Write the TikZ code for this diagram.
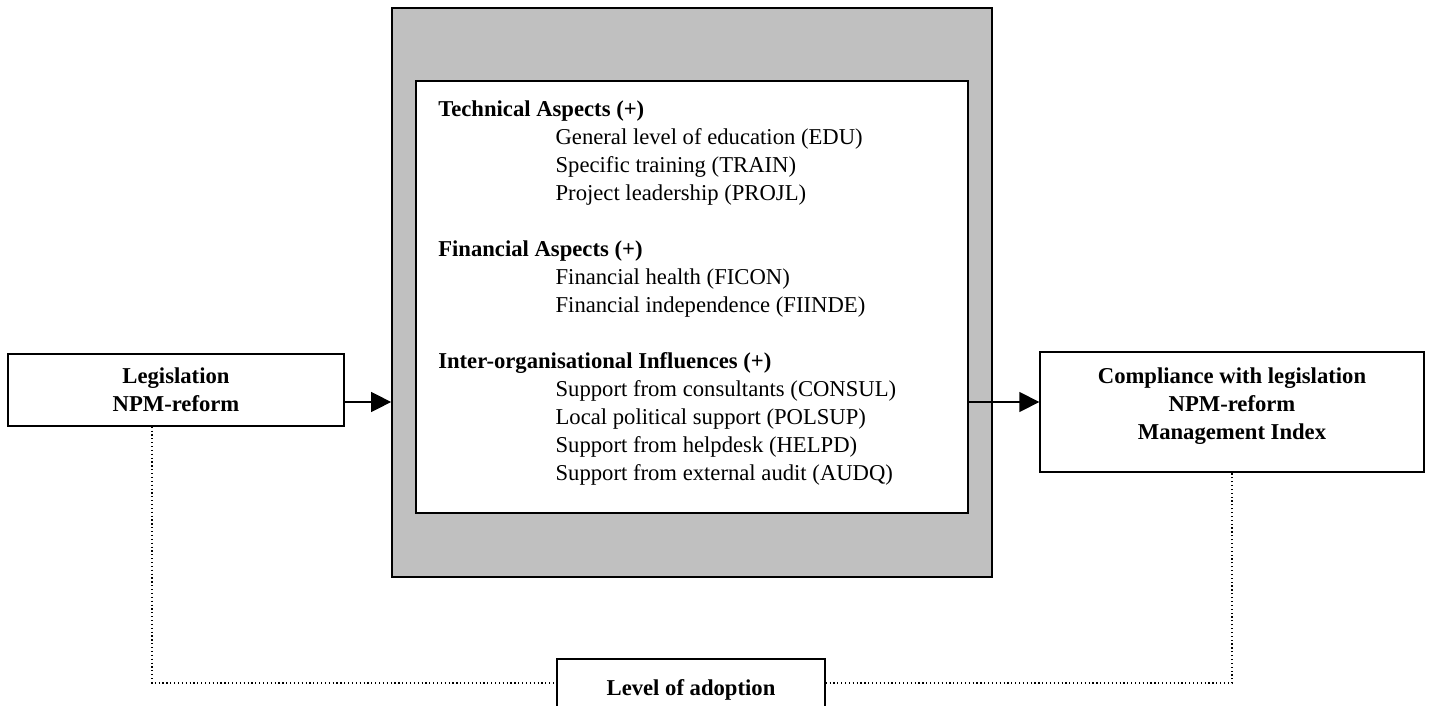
\documentclass[tikz,border=0pt]{standalone}
\usepackage{fontspec}
\setmainfont{Liberation Serif}
\usetikzlibrary{arrows.meta}
\definecolor{shade}{HTML}{C0C0C0}
\newcommand{\itm}{\hspace*{88pt}}

\begin{document}
\begin{tikzpicture}[x=0.75pt,y=-0.75pt,>={Triangle[length=15pt,width=15pt]},
  box/.style={draw,line width=1pt,fill=white,inner sep=0pt,align=center,
    font=\fontsize{17}{21}\selectfont\bfseries},
  arr/.style={->,line width=1pt},
  link/.style={dotted,line width=0.9pt}]
\useasboundingbox (0,0) rectangle (1434,706);
% central block
\node[draw,line width=1.3pt,fill=shade,minimum width=450pt,minimum height=426.75pt] (shell) at (692,292.5) {};
\node[draw,line width=1pt,fill=white,minimum width=414pt,minimum height=324pt] (factors) at (692,297) {};
\node[anchor=north west,inner sep=0pt,align=left,font=\fontsize{17}{21}\selectfont] (list) at (438,101) {%
\textbf{Technical Aspects (+)}\\
\itm General level of education (EDU)\\
\itm Specific training (TRAIN)\\
\itm Project leadership (PROJL)\\[21pt]
\textbf{Financial Aspects (+)}\\
\itm Financial health (FICON)\\
\itm Financial independence (FIINDE)\\[21pt]
\textbf{Inter-organisational Influences (+)}\\
\itm Support from consultants (CONSUL)\\
\itm Local political support (POLSUP)\\
\itm Support from helpdesk (HELPD)\\
\itm Support from external audit (AUDQ)};
% outer boxes
\node[box,minimum width=252pt,minimum height=54pt] (leg) at (176,390) {Legislation\\NPM-reform};
\node[box,minimum width=288pt,minimum height=90pt] (comp) at (1232,412) {Compliance with legislation\\NPM-reform\\Management Index\rule[-13pt]{0pt}{0pt}};
\node[box,minimum width=201pt,minimum height=46.5pt] (adopt) at (691,690) {Level of adoption};
% arrows
\draw[arr] ([yshift=-9pt]leg.east) -- ([yshift=-9pt]leg.east -| shell.west);
\draw[arr] ([yshift=7.5pt]comp.west -| factors.east) -- ([yshift=7.5pt]comp.west);
% dotted links
\draw[link] ([xshift=-18pt]leg.south) |- ([yshift=5.25pt]adopt.west);
\draw[link] ([yshift=5.25pt]adopt.east) -| (comp.south);
\end{tikzpicture}
\end{document}
